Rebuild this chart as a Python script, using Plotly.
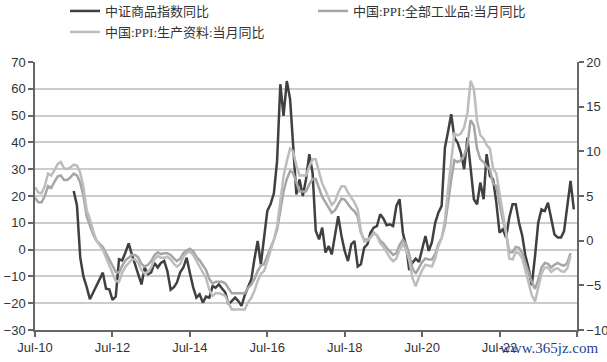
import plotly.graph_objects as go
import pandas as pd

# PPI series (monthly, Jul-2010 .. May-2024), right axis
ppi_all = [
    4.8, 4.3, 4.3, 5.0, 6.1, 5.9,
    6.6, 7.2, 7.3, 6.8, 6.8, 7.1, 7.5, 7.3, 6.5, 5.0, 2.7, 1.7,
    0.7, 0.0, -0.3, -0.7, -1.4, -2.1, -2.9, -3.5, -3.6, -2.8, -2.2, -1.9,
    -1.6, -1.6, -1.9, -2.6, -2.9, -2.7, -2.3, -1.6, -1.3, -1.5, -1.4, -1.4,
    -1.6, -2.0, -2.3, -2.0, -1.4, -1.1, -0.9, -1.2, -1.8, -2.2, -2.7, -3.3,
    -4.3, -4.8, -4.6, -4.6, -4.6, -4.8, -5.4, -5.9, -5.9, -5.9, -5.9, -5.9,
    -5.3, -4.9, -4.3, -3.4, -2.8, -2.6, -1.7, -0.8, 0.1, 1.2, 3.3, 5.5,
    6.9, 7.8, 7.6, 6.4, 5.5, 5.5, 5.5, 6.3, 6.9, 6.9, 5.8, 4.9,
    4.3, 3.7, 3.1, 3.4, 4.1, 4.7, 4.6, 4.1, 3.6, 3.3, 2.7, 0.9,
    0.1, 0.1, 0.4, 0.9, 0.6, 0.0, -0.3, -0.8, -1.2, -1.6, -1.4, -0.5,
    0.1, -0.4, -1.5, -3.1, -3.7, -3.0, -2.4, -2.0, -2.1, -2.1, -1.5, -0.4,
    0.3, 1.7, 4.4, 6.8, 9.0, 8.8, 9.0, 9.5, 10.7, 13.5, 12.9, 10.3,
    9.1, 8.8, 8.3, 8.0, 6.4, 6.1, 4.2, 2.3, 0.9, -1.3, -1.3, -0.7,
    -0.8, -1.4, -2.5, -3.6, -4.6, -5.4, -4.4, -3.0, -2.5, -2.6, -3.0, -2.7,
    -2.5, -2.7, -2.8, -2.5, -1.4,
]
ppi_producer = [
    6.0, 5.4, 5.3, 6.1, 7.5, 7.3,
    7.9, 8.6, 8.8, 8.1, 8.0, 8.2, 8.5, 8.4, 7.6, 6.0, 3.4, 2.4,
    1.1, 0.0, -0.5, -1.0, -1.9, -2.8, -3.8, -4.5, -4.6, -3.6, -2.9, -2.5,
    -2.1, -2.1, -2.5, -3.3, -3.7, -3.5, -3.0, -2.1, -1.7, -1.9, -1.9, -1.8,
    -2.1, -2.6, -2.9, -2.6, -1.8, -1.4, -1.2, -1.6, -2.3, -2.9, -3.5, -4.2,
    -5.5, -6.2, -5.9, -5.9, -6.0, -6.2, -7.0, -7.7, -7.7, -7.7, -7.7, -7.7,
    -6.9, -6.4, -5.6, -4.5, -3.7, -3.4, -2.3, -1.1, 0.1, 1.6, 4.4, 7.2,
    8.9, 10.3, 10.0, 8.4, 7.3, 7.3, 7.3, 8.3, 9.1, 9.1, 7.7, 6.4,
    5.6, 4.8, 4.0, 4.4, 5.4, 6.1, 6.1, 5.4, 4.8, 4.3, 3.5, 1.1,
    -0.1, 0.0, 0.3, 0.8, 0.6, -0.3, -0.7, -1.3, -1.9, -2.3, -2.0, -1.0,
    -0.4, -1.0, -2.2, -4.2, -5.1, -4.1, -3.3, -2.7, -2.8, -2.9, -2.0, -0.6,
    0.3, 2.3, 5.7, 9.1, 12.0, 11.8, 12.0, 12.7, 14.3, 17.9, 17.0, 13.4,
    11.8, 11.4, 10.7, 10.3, 8.1, 7.5, 5.2, 2.8, 0.9, -2.0, -2.1, -1.3,
    -1.4, -2.0, -3.4, -4.7, -6.1, -6.8, -5.4, -3.7, -3.0, -3.0, -3.5, -3.2,
    -3.1, -3.4, -3.5, -3.1, -1.7,
]
# CSI commodity index YoY (monthly, Jul-2011 .. Jun-2024), left axis
cci_yoy = [
    21.9, 16.5, -3.0, -10.0, -14.0, -18.5,
    -16.0, -13.5, -11.0, -8.6, -14.6, -14.8, -18.8, -17.5, -3.6, -4.0, -1.0, 2.3,
    -2.0, -6.1, -9.5, -13.0, -6.7, -9.2, -8.5, -5.0, -6.7, -5.0, -4.2, -8.0,
    -15.0, -14.0, -12.3, -8.5, -6.7, -3.0, -8.6, -14.0, -17.9, -16.7, -19.8, -17.5,
    -17.9, -13.6, -14.2, -13.0, -14.5, -16.0, -20.4, -19.0, -17.9, -19.2, -21.0, -17.0,
    -14.2, -11.1, -3.6, 3.2, -5.5, 5.0, 14.5, 17.0, 21.0, 33.0, 61.7, 49.9,
    62.9, 56.1, 37.4, 20.6, 26.2, 20.0, 26.2, 35.6, 28.7, 7.0, 3.8, 8.2,
    -1.1, 1.3, -1.8, 5.1, 12.5, 5.1, -0.5, -4.3, 2.0, 3.2, -6.3, -5.5,
    0.7, 2.0, 6.3, 8.2, 8.8, 13.2, 11.6, 9.1, 9.4, 8.8, 16.3, 18.8,
    6.3, 1.3, -7.6, -4.9, -3.4, -4.6, 0.7, 5.1, -0.5, 2.8, 10.0, 13.8,
    16.3, 38.1, 43.7, 50.5, 41.8, 39.9, 36.2, 30.0, 41.8, 30.6, 18.8, 16.9,
    25.0, 18.8, 35.6, 27.5, 26.2, 17.5, 6.3, 7.6, 4.5, 12.0, 16.9, 16.9,
    10.0, 5.1, -2.0, -7.0, -13.3, -2.4, 10.0, 15.0, 14.4, 17.5, 11.9, 5.7,
    4.5, 4.5, 6.9, 17.5, 25.6, 15.0,
]
left_ticks = [-30, -20, -10, 0, 10, 20, 30, 40, 50, 60, 70]
right_ticks = [-10, -5, 0, 5, 10, 15, 20]
x_ticks = ["2010-07-01", "2012-07-01", "2014-07-01", "2016-07-01",
           "2018-07-01", "2020-07-01", "2022-07-01", "2024-07-01"]
x_tick_labels = ["Jul-10", "Jul-12", "Jul-14", "Jul-16", "Jul-18", "Jul-20", "Jul-22", ""]

names = ["中证商品指数同比", "中国:PPI:全部工业品:当月同比", "中国:PPI:生产资料:当月同比"]

ppi_dates = pd.date_range("2010-07-01", periods=len(ppi_all), freq="MS")
cci_dates = pd.date_range("2011-07-01", periods=len(cci_yoy), freq="MS")

fig = go.Figure()
fig.add_trace(go.Scatter(x=cci_dates, y=cci_yoy, name=names[0], mode="lines",
                         line=dict(color="#404040", width=2.5), yaxis="y", legend="legend"))
fig.add_trace(go.Scatter(x=ppi_dates, y=ppi_all, name=names[1], mode="lines",
                         line=dict(color="#a6a6a6", width=2.5), yaxis="y2", legend="legend2"))
fig.add_trace(go.Scatter(x=ppi_dates, y=ppi_producer, name=names[2], mode="lines",
                         line=dict(color="#bdbdbd", width=2.5), yaxis="y2", legend="legend3"))

tickfont = dict(family="Liberation Sans, Arial, sans-serif", size=13, color="#333333")
legfont = dict(family="Liberation Serif, Noto Sans CJK SC", size=13, color="#333333")


def leg(x, y):
    return dict(x=x, y=y, xref="paper", yref="paper", xanchor="left", yanchor="middle",
                font=legfont, bgcolor="rgba(0,0,0,0)", borderwidth=0)


fig.update_layout(
    width=607, height=362,
    margin=dict(l=35, r=30, t=62, b=32, autoexpand=False),
    paper_bgcolor="white", plot_bgcolor="white",
    showlegend=True,
    legend=leg((65 - 35) / 542, (330 - 11) / 268),
    legend2=leg((313 - 35) / 542, (330 - 11) / 268),
    legend3=leg((65 - 35) / 542, (330 - 32) / 268),
    xaxis=dict(type="date", range=["2010-07-01", "2024-07-01"],
               tickvals=x_ticks, ticktext=x_tick_labels,
               showgrid=False, showline=True, linecolor="#666666", linewidth=1.5,
               ticks="outside", ticklen=5, tickcolor="#666666", tickwidth=1.5,
               tickfont=tickfont, zeroline=False, automargin=False),
    yaxis=dict(range=[-30, 70], tickvals=left_ticks, showgrid=True,
               gridcolor="#cccccc", gridwidth=1.5, showline=True, linecolor="#666666",
               linewidth=1.5, ticks="outside", ticklen=5, tickcolor="#666666",
               tickwidth=1.5, tickfont=tickfont, zeroline=False, automargin=False),
    yaxis2=dict(range=[-10, 20], tickvals=right_ticks, overlaying="y", side="right",
                showgrid=False, showline=True, linecolor="#666666", linewidth=1.5,
                ticks="outside", ticklen=5, tickcolor="#666666", tickwidth=1.5,
                tickfont=tickfont, zeroline=False, automargin=False),
)
fig.add_annotation(text="www.365jz.com", xref="paper", yref="paper",
                   x=(601 - 35) / 542, y=-18 / 268, xanchor="right", yanchor="middle",
                   showarrow=False,
                   font=dict(family="Liberation Serif, serif", size=15, color="#1f3f8f"))
fig.write_html("out.html", config={"displayModeBar": False},
               post_script="document.body.style.margin='0';")
